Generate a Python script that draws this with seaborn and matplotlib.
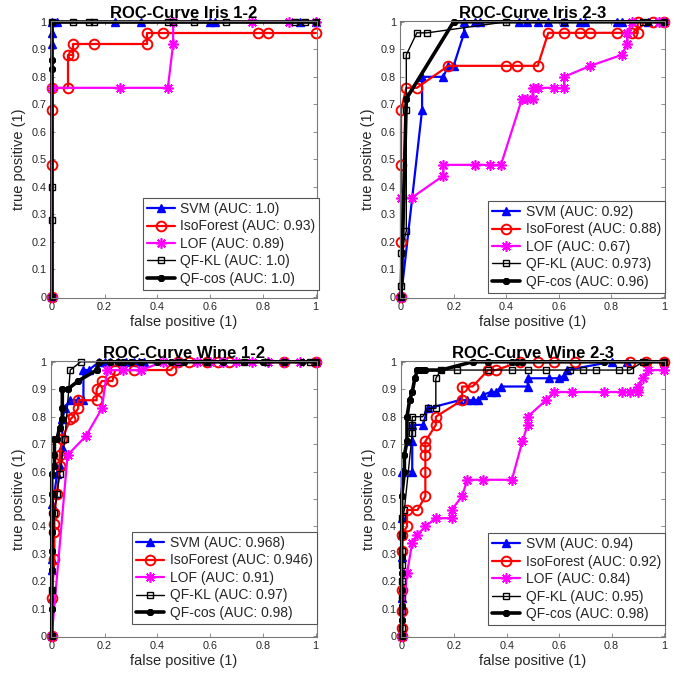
import numpy as np
import pandas as pd
import matplotlib
matplotlib.use("Agg")
import matplotlib.pyplot as plt
import seaborn as sns

# ---------------- data ----------------
titles = ["ROC-Curve Iris 1-2", "ROC-Curve Iris 2-3", "ROC-Curve Wine 1-2", "ROC-Curve Wine 2-3"]
methods = ["SVM", "IsoForest", "LOF", "QF-KL", "QF-cos"]
auc_i12 = ["1.0", "0.93", "0.89", "1.0", "1.0"]
auc_i23 = ["0.92", "0.88", "0.67", "0.973", "0.96"]
auc_w12 = ["0.968", "0.946", "0.91", "0.97", "0.98"]
auc_w23 = ["0.94", "0.92", "0.84", "0.95", "0.98"]

# Iris 1-2
svm_i12_x = [0, 0, 0, 0, 0.02, 0.24, 0.34, 0.60, 0.62, 0.94, 1.0]
svm_i12_y = [0, 0.92, 0.96, 1, 1, 1, 1, 1, 1, 1, 1]
iso_i12_x = [0, 0, 0, 0, 0.06, 0.06, 0.08, 0.08, 0.16, 0.36, 0.36, 0.42, 0.78, 0.82, 1.0]
iso_i12_y = [0, 0.48, 0.68, 0.76, 0.76, 0.88, 0.88, 0.92, 0.92, 0.92, 0.96, 0.96, 0.96, 0.96, 0.96]
lof_i12_x = [0, 0, 0.26, 0.44, 0.46, 0.46, 0.76, 0.90, 1.0]
lof_i12_y = [0, 0.76, 0.76, 0.76, 0.92, 1, 1, 1, 1]
kl_i12_x = [0, 0, 0, 0, 0.08, 0.14, 0.16, 0.44, 0.46, 0.54, 0.66, 0.92, 0.96, 1.0]
kl_i12_y = [0, 0.28, 0.40, 1, 1, 1, 1, 1, 1, 1, 1, 1, 1, 1]
cos_i12_x = [0, 0, 0, 0, 1.0]
cos_i12_y = [0, 0.83, 0.86, 1, 1]

# Iris 2-3
svm_i23_x = [0, 0.08, 0.08, 0.16, 0.18, 0.20, 0.24, 0.24, 0.28, 0.30, 0.45, 0.48, 0.52, 0.56, 0.62, 0.68, 0.70, 0.82, 0.84, 0.94, 1.0]
svm_i23_y = [0, 0.68, 0.80, 0.80, 0.84, 0.84, 0.96, 1, 1, 1, 1, 1, 1, 1, 1, 1, 1, 1, 1, 1, 1]
iso_i23_x = [0, 0, 0, 0, 0.02, 0.06, 0.18, 0.40, 0.44, 0.52, 0.56, 0.62, 0.68, 0.72, 0.82, 0.88, 0.90, 0.90, 0.96, 1.0]
iso_i23_y = [0, 0.20, 0.48, 0.68, 0.76, 0.76, 0.84, 0.84, 0.84, 0.84, 0.96, 0.96, 0.96, 0.96, 0.96, 0.96, 0.96, 1, 1, 1]
lof_i23_x = [0, 0, 0.04, 0.16, 0.16, 0.28, 0.34, 0.38, 0.46, 0.48, 0.50, 0.50, 0.52, 0.58, 0.62, 0.62, 0.72, 0.84, 0.86, 0.86, 0.88, 0.98, 1.0]
lof_i23_y = [0, 0.36, 0.36, 0.44, 0.48, 0.48, 0.48, 0.48, 0.72, 0.72, 0.72, 0.76, 0.76, 0.76, 0.76, 0.80, 0.84, 0.88, 0.92, 0.96, 1.0, 1.0, 1.0]
kl_i23_x = [0, 0, 0, 0.02, 0.02, 0.02, 0.06, 0.10, 0.40, 0.62, 0.92, 1.0]
kl_i23_y = [0, 0.04, 0.16, 0.24, 0.68, 0.88, 0.96, 0.96, 1, 1, 1, 1]
cos_i23_x = [0, 0.02, 0.20, 0.94, 1.0]
cos_i23_y = [0, 0.72, 1, 1, 1]

# Wine 1-2
svm_w12_x = [0, 0, 0, 0, 0, 0.01, 0.02, 0.03, 0.04, 0.04, 0.05, 0.07, 0.10, 0.12, 0.12, 0.14, 0.18, 0.20, 0.22, 0.25, 0.28, 0.31, 0.33, 0.35, 1.0]
svm_w12_y = [0, 0.14, 0.24, 0.28, 0.48, 0.52, 0.59, 0.62, 0.69, 0.79, 0.83, 0.86, 0.86, 0.86, 0.97, 0.97, 1, 1, 1, 1, 1, 1, 1, 1, 1]
iso_w12_x = [0, 0, 0.01, 0.01, 0.01, 0.01, 0.02, 0.03, 0.03, 0.04, 0.07, 0.08, 0.10, 0.10, 0.17, 0.17, 0.19, 0.23, 0.24, 0.31, 0.45, 0.48, 0.52, 0.59, 0.63, 0.67, 0.88, 1.0]
iso_w12_y = [0, 0.14, 0.28, 0.38, 0.41, 0.45, 0.52, 0.62, 0.66, 0.72, 0.79, 0.80, 0.83, 0.86, 0.86, 0.90, 0.93, 0.93, 0.97, 0.97, 0.97, 1, 1, 1, 1, 1, 1, 1]
lof_w12_x = [0, 0.06, 0.13, 0.19, 0.21, 0.27, 0.34, 0.42, 0.48, 0.55, 0.60, 0.65, 0.70, 0.76, 0.82, 0.88, 0.94, 1.0]
lof_w12_y = [0, 0.66, 0.73, 0.83, 0.97, 0.97, 0.97, 1, 1, 1, 1, 1, 1, 1, 1, 1, 1, 1]
kl_w12_x = [0, 0, 0.01, 0.02, 0.03, 0.05, 0.07, 0.11, 0.48, 0.59, 0.73, 0.81, 0.88, 0.98, 1.0]
kl_w12_y = [0, 0.17, 0.45, 0.52, 0.59, 0.72, 0.97, 1, 1, 1, 1, 1, 1, 1, 1]
cos_w12_x = [0, 0, 0, 0, 0, 0, 0, 0, 0, 0.01, 0.01, 0.01, 0.02, 0.03, 0.04, 0.04, 0.04, 0.06, 0.10, 0.17, 0.18, 0.22, 0.25, 0.27, 0.30, 0.34, 0.40, 0.45, 0.50, 0.59, 0.65, 0.73, 0.80, 0.88, 0.95, 1.0]
cos_w12_y = [0, 0.10, 0.17, 0.24, 0.31, 0.38, 0.45, 0.52, 0.59, 0.62, 0.66, 0.72, 0.72, 0.76, 0.79, 0.83, 0.90, 0.90, 0.93, 0.97, 1, 1, 1, 1, 1, 1, 1, 1, 1, 1, 1, 1, 1, 1, 1, 1]

# Wine 2-3
svm_w23_x = [0, 0, 0, 0, 0, 0, 0.04, 0.04, 0.04, 0.08, 0.10, 0.22, 0.25, 0.27, 0.29, 0.31, 0.34, 0.36, 0.38, 0.48, 0.48, 0.56, 0.60, 0.62, 0.63, 0.80, 0.86, 1.0]
svm_w23_y = [0, 0.14, 0.29, 0.37, 0.43, 0.60, 0.60, 0.71, 0.77, 0.77, 0.83, 0.86, 0.86, 0.86, 0.86, 0.88, 0.89, 0.89, 0.91, 0.91, 0.94, 0.94, 0.94, 0.95, 0.97, 1, 1, 1]
iso_w23_x = [0, 0, 0, 0, 0, 0, 0.02, 0.02, 0.06, 0.09, 0.09, 0.09, 0.09, 0.09, 0.13, 0.13, 0.23, 0.23, 0.27, 0.33, 0.36, 0.45, 0.52, 0.58, 0.66, 0.87, 0.93, 1.0]
iso_w23_y = [0, 0.03, 0.09, 0.17, 0.31, 0.37, 0.40, 0.46, 0.46, 0.51, 0.60, 0.66, 0.69, 0.71, 0.77, 0.80, 0.86, 0.91, 0.91, 0.97, 0.97, 1, 1, 1, 1, 1, 1, 1]
lof_w23_x = [0, 0.02, 0.04, 0.06, 0.09, 0.13, 0.19, 0.19, 0.23, 0.25, 0.31, 0.42, 0.46, 0.48, 0.48, 0.55, 0.58, 0.65, 0.77, 0.84, 0.87, 0.90, 0.90, 0.92, 0.94, 1.0]
lof_w23_y = [0, 0.23, 0.34, 0.37, 0.40, 0.43, 0.43, 0.46, 0.51, 0.57, 0.57, 0.57, 0.71, 0.77, 0.80, 0.86, 0.89, 0.89, 0.89, 0.89, 0.89, 0.89, 0.91, 0.94, 0.97, 0.97]
kl_w23_x = [0, 0, 0, 0, 0, 0, 0, 0, 0, 0.01, 0.04, 0.04, 0.04, 0.08, 0.10, 0.13, 0.13, 0.15, 0.21, 0.33, 0.42, 0.48, 0.55, 0.64, 0.69, 0.74, 0.83, 0.87, 0.92, 1.0]
kl_w23_y = [0, 0.03, 0.09, 0.14, 0.20, 0.26, 0.31, 0.37, 0.43, 0.46, 0.74, 0.77, 0.80, 0.80, 0.83, 0.83, 0.94, 0.97, 0.97, 0.97, 0.97, 0.97, 0.97, 0.97, 0.97, 0.97, 0.97, 0.97, 1, 1]
cos_w23_x = [0, 0, 0, 0, 0, 0, 0, 0, 0.01, 0.01, 0.02, 0.02, 0.03, 0.04, 0.05, 0.06, 0.07, 0.08, 0.09, 0.15, 0.27, 0.33, 0.42, 0.44, 0.46, 0.77, 0.93, 1.0]
cos_w23_y = [0, 0.06, 0.11, 0.17, 0.23, 0.29, 0.37, 0.51, 0.60, 0.66, 0.71, 0.80, 0.86, 0.89, 0.94, 0.97, 0.97, 0.97, 0.97, 0.97, 1, 1, 1, 1, 1, 1, 1, 1]

panels = [
    ([(svm_i12_x, svm_i12_y), (iso_i12_x, iso_i12_y), (lof_i12_x, lof_i12_y), (kl_i12_x, kl_i12_y), (cos_i12_x, cos_i12_y)], auc_i12),
    ([(svm_i23_x, svm_i23_y), (iso_i23_x, iso_i23_y), (lof_i23_x, lof_i23_y), (kl_i23_x, kl_i23_y), (cos_i23_x, cos_i23_y)], auc_i23),
    ([(svm_w12_x, svm_w12_y), (iso_w12_x, iso_w12_y), (lof_w12_x, lof_w12_y), (kl_w12_x, kl_w12_y), (cos_w12_x, cos_w12_y)], auc_w12),
    ([(svm_w23_x, svm_w23_y), (iso_w23_x, iso_w23_y), (lof_w23_x, lof_w23_y), (kl_w23_x, kl_w23_y), (cos_w23_x, cos_w23_y)], auc_w23),
]

xticks = [0, 0.2, 0.4, 0.6, 0.8, 1.0]
xticklabels = ["0", "0.2", "0.4", "0.6", "0.8", "1"]
yticks = [0, 0.1, 0.2, 0.3, 0.4, 0.5, 0.6, 0.7, 0.8, 0.9, 1.0]
yticklabels = ["0", "0.1", "0.2", "0.3", "0.4", "0.5", "0.6", "0.7", "0.8", "0.9", "1"]

# ---------------- styles ----------------
styles = [
    dict(color="#0000ff", marker="^", markersize=6, markerfacecolor="#0000ff", markeredgecolor="#0000ff", markeredgewidth=1.0, linewidth=1.6),
    dict(color="#ff0000", marker="o", markersize=7, markerfacecolor="none", markeredgecolor="#ff0000", markeredgewidth=1.4, linewidth=1.6),
    dict(color="#ff00ff", marker=(8, 2, 0), markersize=7.5, markerfacecolor="#ff00ff", markeredgecolor="#ff00ff", markeredgewidth=1.2, linewidth=1.6),
    dict(color="#000000", marker="s", markersize=5, markerfacecolor="none", markeredgecolor="#000000", markeredgewidth=1.0, linewidth=1.0),
    dict(color="#000000", marker=(8, 2, 0), markersize=5, markerfacecolor="#000000", markeredgecolor="#000000", markeredgewidth=1.4, linewidth=2.6),
]

sns.set_theme(style="white")
plt.rcParams["font.family"] = ["Liberation Sans", "DejaVu Sans"]
TXT = "#262626"
EDGE = "#7a7a7a"

fig = plt.figure(figsize=(6.82, 6.77), dpi=100)
W, H = 682.0, 677.0
boxes = [
    (50.7, 21.0, 316.7, 297.7),
    (400.0, 21.0, 665.0, 297.7),
    (50.7, 361.0, 316.7, 637.0),
    (400.7, 361.0, 665.0, 637.0),
]
legend_anchor = [(1.01, 0.028), (1.0, 0.017), (1.0, 0.047), (1.0, 0.042)]

for i, ((series, aucs), (l, t, r, b)) in enumerate(zip(panels, boxes)):
    ax = fig.add_axes([l / W, 1 - b / H, (r - l) / W, (b - t) / H])
    for (xs, ys), name, auc, st in zip(series, methods, aucs, styles):
        df = pd.DataFrame({"fp": xs, "tp": ys})
        sns.lineplot(data=df, x="fp", y="tp", ax=ax, sort=False, estimator=None,
                     label=f"{name} (AUC: {auc})", clip_on=False, **st)
    ax.set_xlim(-0.004, 1.004)
    ax.set_ylim(-0.003, 1.003)
    ax.set_xticks(xticks)
    ax.set_xticklabels(xticklabels)
    ax.set_yticks(yticks)
    ax.set_yticklabels(yticklabels)
    ax.tick_params(direction="in", length=3, width=0.6, colors=EDGE, labelcolor=TXT,
                   labelsize=7.8, top=True, right=True, bottom=True, left=True, pad=3)
    for sp in ax.spines.values():
        sp.set_color(EDGE)
        sp.set_linewidth(0.8)
    ax.set_xlabel("false positive (1)", fontsize=10.5, color=TXT, labelpad=2)
    ax.set_ylabel("true positive (1)", fontsize=10.5, color=TXT, labelpad=4)
    ax.set_title(titles[i], fontsize=12, fontweight="bold", color="#000000", pad=2)
    leg = ax.legend(loc="lower right", bbox_to_anchor=legend_anchor[i], borderaxespad=0,
                    fontsize=10, frameon=True, fancybox=False, framealpha=1,
                    edgecolor="#555555", labelspacing=0.25, handlelength=2.0,
                    handletextpad=0.4, borderpad=0.3, labelcolor=TXT)
    leg.get_frame().set_linewidth(0.8)

fig.savefig("out.png", dpi=100)
